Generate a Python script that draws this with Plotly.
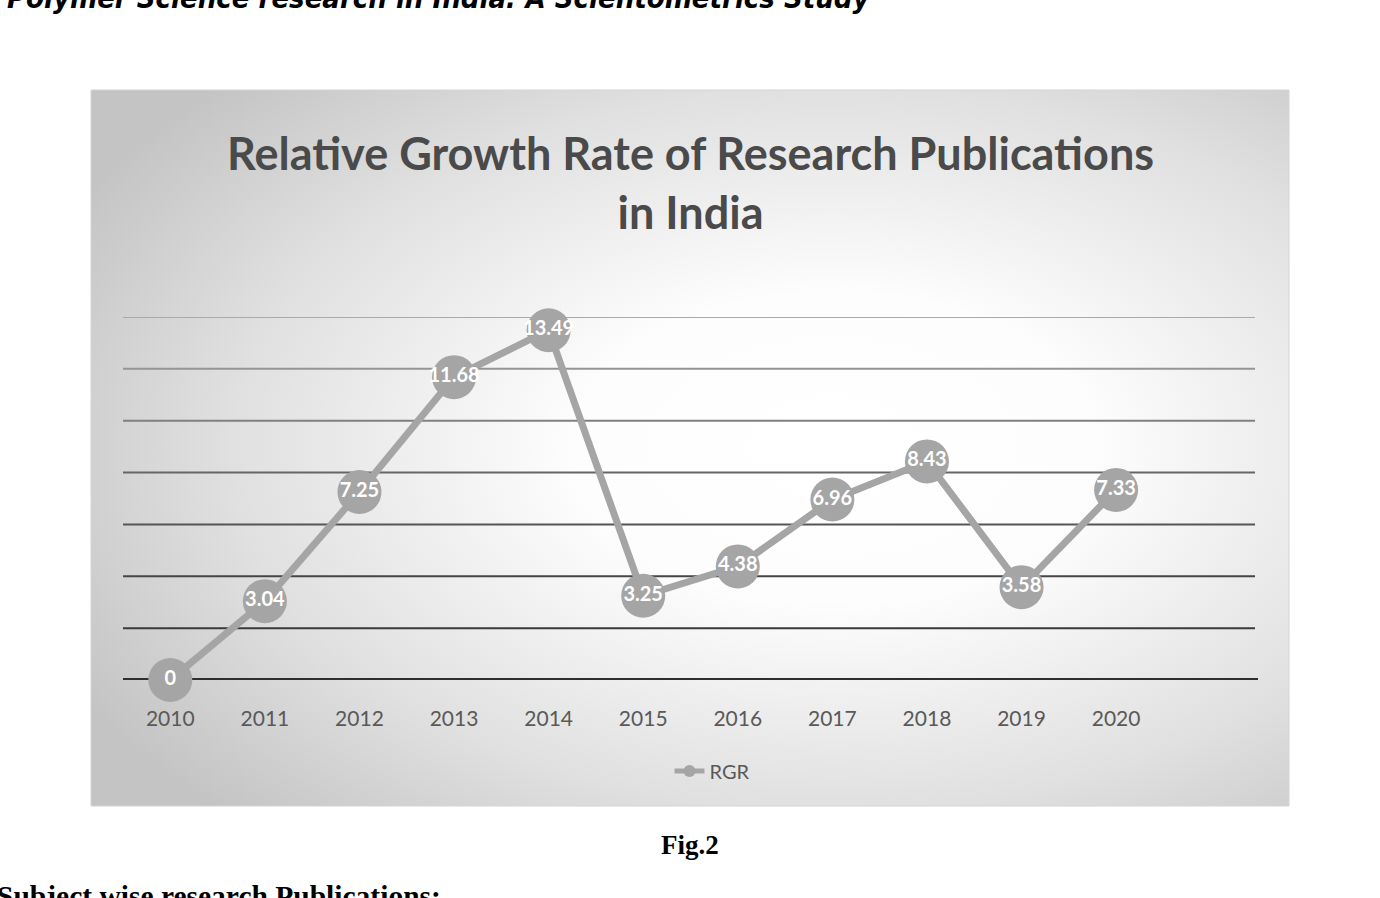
import base64
import plotly.graph_objects as go

# ---- data ----
years = ["2010", "2011", "2012", "2013", "2014", "2015", "2016", "2017", "2018", "2019", "2020"]
rgr = [0, 3.04, 7.25, 11.68, 13.49, 3.25, 4.38, 6.96, 8.43, 3.58, 7.33]
rgr_labels = ["0", "3.04", "7.25", "11.68", "13.49", "3.25", "4.38", "6.96", "8.43", "3.58", "7.33"]
grid_values = [2, 4, 6, 8, 10, 12, 14]
grid_colors = ["#3a3a3a", "#454545", "#555555", "#666666", "#808080", "#959595", "#aaaaaa"]

W, H = 1380, 898


def px_x(p):
    return p / W


def px_y(p):
    return 1 - p / H


# chart box
bx0, by0, bx1, by1 = 91, 90, 1289, 806
bw, bh = bx1 - bx0, by1 - by0
svg = (
    f"<svg xmlns='http://www.w3.org/2000/svg' width='{bw}' height='{bh}'>"
    "<defs><radialGradient id='g' cx='0.62' cy='0.5' r='0.72' fx='0.62' fy='0.5'>"
    "<stop offset='0' stop-color='#ffffff'/>"
    "<stop offset='0.3' stop-color='#fdfdfd'/>"
    "<stop offset='0.7' stop-color='#e0e0e0'/>"
    "<stop offset='1' stop-color='#c4c4c4'/>"
    "</radialGradient></defs>"
    f"<rect width='{bw}' height='{bh}' fill='url(#g)'/></svg>"
)
src = "data:image/svg+xml;base64," + base64.b64encode(svg.encode()).decode()

plot_left, plot_right = 123, 1258
y_bottom, y_top = 680, 317

fig = go.Figure()
fig.add_trace(
    go.Scatter(
        x=years,
        y=rgr,
        mode="lines+markers+text",
        name="RGR",
        text=rgr_labels,
        textposition="middle center",
        textfont=dict(family="Lato", size=20, color="white", weight="bold"),
        line=dict(color="#a5a5a5", width=7),
        marker=dict(color="#a5a5a5", size=44),
        cliponaxis=False,
    )
)

shapes = []
for v, c in zip(grid_values, grid_colors):
    shapes.append(
        dict(type="line", xref="paper", yref="y", x0=px_x(plot_left), x1=px_x(1255),
             y0=v, y1=v, line=dict(color=c, width=2), layer="below")
    )
shapes.append(
    dict(type="line", xref="paper", yref="y", x0=px_x(plot_left), x1=px_x(plot_right),
         y0=0, y1=0, line=dict(color="#2e2e2e", width=4), layer="below")
)
shapes.append(
    dict(type="rect", xref="paper", yref="paper", x0=px_x(bx0), x1=px_x(bx1),
         y0=px_y(by1), y1=px_y(by0), line=dict(color="#d4d4d4", width=1), layer="below")
)

annotations = [
    dict(text="<b>Relative Growth Rate of Research Publications<br>in India</b>",
         xref="paper", yref="paper", x=px_x(690), y=px_y(183), xanchor="center", yanchor="middle",
         showarrow=False, font=dict(family="Lato", size=45, color="#4a4a4a"), align="center"),
    dict(text="<b>Fig.2</b>", xref="paper", yref="paper", x=px_x(690), y=px_y(845),
         xanchor="center", yanchor="middle", showarrow=False,
         font=dict(family="Liberation Serif", size=27, color="#000000")),
    dict(text="<b><i>Polymer Science research in India: A Scientometrics Study</i></b>",
         xref="paper", yref="paper", x=px_x(872), y=px_y(-2), xanchor="right", yanchor="middle",
         showarrow=False, font=dict(family="DejaVu Sans Condensed", size=29, color="#000000")),
    dict(text="<b>Subject wise research Publications:</b>", xref="paper", yref="paper",
         x=px_x(-5), y=px_y(896), xanchor="left", yanchor="middle", showarrow=False,
         font=dict(family="Liberation Serif", size=29.5, color="#000000")),
]

fig.update_layout(
    width=W,
    height=H,
    margin=dict(l=0, r=0, t=0, b=0),
    paper_bgcolor="white",
    plot_bgcolor="rgba(0,0,0,0)",
    images=[dict(source=src, xref="paper", yref="paper", x=px_x(bx0), y=px_y(by0),
                 sizex=bw / W, sizey=bh / H, xanchor="left", yanchor="top",
                 sizing="stretch", layer="below")],
    shapes=shapes,
    annotations=annotations,
    showlegend=True,
    legend=dict(orientation="h", x=px_x(712), y=px_y(771), xanchor="center", yanchor="middle",
                bgcolor="rgba(0,0,0,0)", itemsizing="constant",
                font=dict(family="Lato", size=20, color="#595959")),
    xaxis=dict(type="category", domain=[px_x(plot_left), px_x(plot_right)], range=[-0.5, 11.5],
               showgrid=False, zeroline=False, showline=False, ticks="",
               tickfont=dict(family="Lato", size=21, color="#595959"), ticklabelstandoff=24,
               fixedrange=True),
    yaxis=dict(range=[0, 14], domain=[px_y(y_bottom), px_y(y_top)], showgrid=False,
               zeroline=False, showline=False, showticklabels=False, ticks="", fixedrange=True),
)

fig.write_html("out.html")
